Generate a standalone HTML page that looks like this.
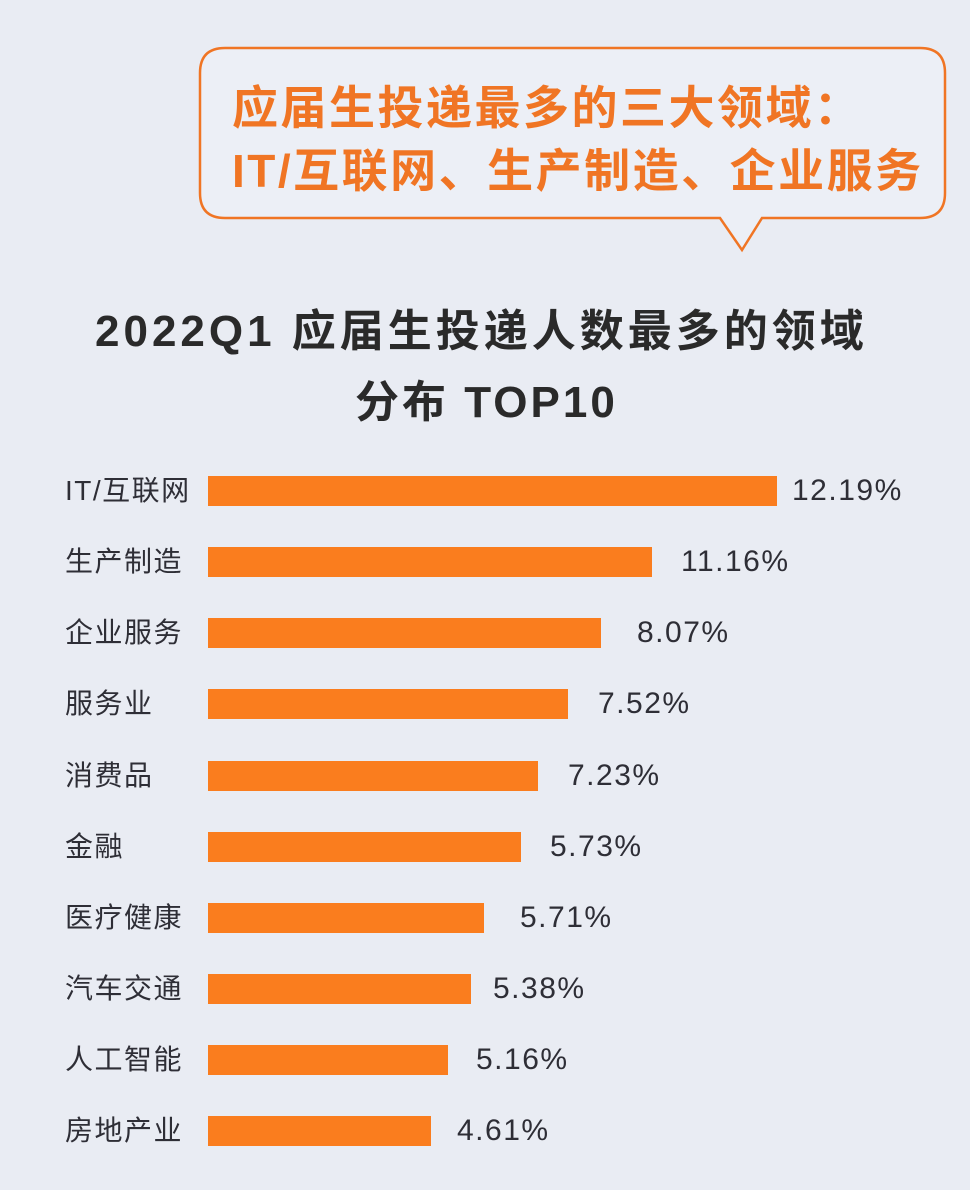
<!DOCTYPE html>
<html><head><meta charset="utf-8"><style>
body{margin:0;width:970px;height:1190px;background:#e9ecf3;position:relative;overflow:hidden;font-family:"Liberation Sans","Noto Sans CJK SC",sans-serif;}
.t{position:absolute;white-space:nowrap;}
.bub{font-weight:bold;color:#f07524;font-size:46px;left:232px;letter-spacing:2.5px;}
.title{font-weight:bold;color:#2a2a2a;font-size:44px;letter-spacing:4px;}
.lab{left:65px;font-size:28px;color:#2e2e36;line-height:30px;letter-spacing:1.5px;}
.bar{position:absolute;left:208px;height:30px;background:#fa7d1e;}
.val{font-size:30px;color:#2e2e36;line-height:30px;letter-spacing:1.5px;}
</style></head><body>
<svg width="970" height="270" style="position:absolute;left:0;top:0">
<path d="M225,48 H920 Q945,48 945,73 V193 Q945,218 920,218 H762 L742,250 L720,218 H225 Q200,218 200,193 V73 Q200,48 225,48 Z" fill="#eceff6" stroke="#f07524" stroke-width="2.5"/>
</svg>
<div class="t bub" style="top:72px;">应届生投递最多的三大领域：</div>
<div class="t bub" style="top:135px;">IT/互联网、生产制造、企业服务</div>
<div class="t title" style="left:95px;top:295px;">2022Q1 应届生投递人数最多的领域</div>
<div class="t title" style="left:355px;top:366px;letter-spacing:3px;">分布 TOP10</div>

<div class="t lab" style="top:476px">IT/互联网</div><div class="bar" style="top:476px;width:569px"></div><div class="t val" style="top:476px;left:792px">12.19%</div>
<div class="t lab" style="top:547px">生产制造</div><div class="bar" style="top:547px;width:444px"></div><div class="t val" style="top:547px;left:681px">11.16%</div>
<div class="t lab" style="top:618px">企业服务</div><div class="bar" style="top:618px;width:393px"></div><div class="t val" style="top:618px;left:637px">8.07%</div>
<div class="t lab" style="top:689px">服务业</div><div class="bar" style="top:689px;width:360px"></div><div class="t val" style="top:689px;left:598px">7.52%</div>
<div class="t lab" style="top:761px">消费品</div><div class="bar" style="top:761px;width:330px"></div><div class="t val" style="top:761px;left:568px">7.23%</div>
<div class="t lab" style="top:832px">金融</div><div class="bar" style="top:832px;width:313px"></div><div class="t val" style="top:832px;left:550px">5.73%</div>
<div class="t lab" style="top:903px">医疗健康</div><div class="bar" style="top:903px;width:276px"></div><div class="t val" style="top:903px;left:520px">5.71%</div>
<div class="t lab" style="top:974px">汽车交通</div><div class="bar" style="top:974px;width:263px"></div><div class="t val" style="top:974px;left:493px">5.38%</div>
<div class="t lab" style="top:1045px">人工智能</div><div class="bar" style="top:1045px;width:240px"></div><div class="t val" style="top:1045px;left:476px">5.16%</div>
<div class="t lab" style="top:1116px">房地产业</div><div class="bar" style="top:1116px;width:223px"></div><div class="t val" style="top:1116px;left:457px">4.61%</div>
</body></html>
